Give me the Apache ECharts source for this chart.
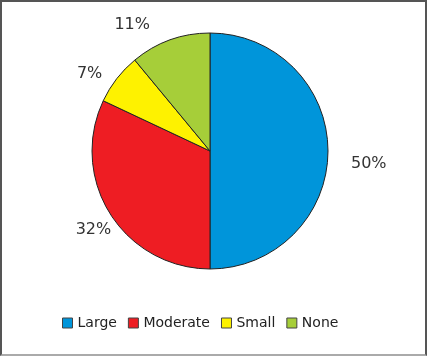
<!DOCTYPE html>
<html><head><meta charset="utf-8">
<script src="https://cdn.jsdelivr.net/npm/echarts@6/dist/echarts.min.js"></script>
<style>
html,body{margin:0;padding:0;background:#fff;}
#c{width:427px;height:356px;box-sizing:border-box;border:2px solid #555;border-bottom-color:#aaa;}
</style></head>
<body><div id="c"></div>
<script>
const categories = ['Large', 'Moderate', 'Small', 'None'];
const values = [50, 32, 7, 11];
const colors = ['#0095da', '#ee1d23', '#fef200', '#a6ce39'];
// label nudges (style only)
const labelNudge = [[-2, 13], [24, 9], [8, 3], [-3, -4]];

const chart = echarts.init(document.getElementById('c'), null, {renderer: 'canvas'});
chart.setOption({
  animation: false,
  color: colors,
  legend: {
    bottom: 19,
    left: 55,
    itemWidth: 10,
    itemHeight: 10,
    itemGap: 11,
    icon: 'rect',
    itemStyle: {borderColor: '#444', borderWidth: 1},
    textStyle: {fontFamily: 'DejaVu Sans', fontSize: 14, color: '#222'},
    data: categories
  },
  series: [{
    type: 'pie',
    center: [208, 149],
    radius: 118,
    startAngle: 90,
    clockwise: true,
    avoidLabelOverlap: false,
    itemStyle: {borderColor: '#222', borderWidth: 1},
    label: {
      show: true,
      position: 'outside',
      formatter: '{d}%',
      fontFamily: 'DejaVu Sans',
      fontSize: 16,
      color: '#333'
    },
    labelLine: {show: false, length: 12, length2: 8},
    emphasis: {disabled: true},
    data: categories.map((n, i) => ({name: n, value: values[i], label: {offset: labelNudge[i]}}))
  }]
});
</script></body></html>
